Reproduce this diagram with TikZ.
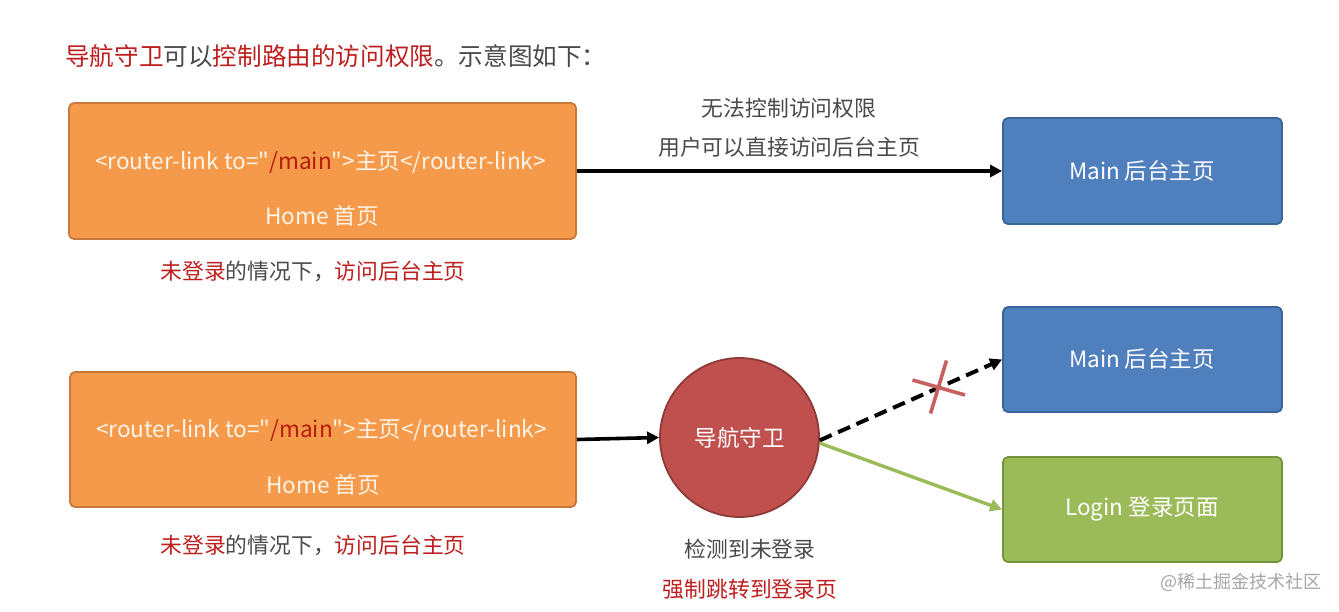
\documentclass[tikz,border=0pt]{standalone}
\usepackage{fontspec}
\setmainfont{Noto Sans CJK SC}
\newfontfamily\qfont{Noto Sans CJK SC}[Ligatures=ResetAll]
\usetikzlibrary{arrows.meta}
\definecolor{orfill}{HTML}{F59A4A}
\definecolor{ordraw}{HTML}{C8783A}
\definecolor{blfill}{HTML}{4F7FBD}
\definecolor{bldraw}{HTML}{3A6598}
\definecolor{grfill}{HTML}{9BBB59}
\definecolor{grdraw}{HTML}{76923C}
\definecolor{rdfill}{HTML}{C0504D}
\definecolor{rddraw}{HTML}{8E3A38}
\definecolor{txtred}{HTML}{BE1E1E}
\definecolor{txtgray}{HTML}{4A4A4A}
\definecolor{codered}{HTML}{B71C0C}
\definecolor{orwhite}{HTML}{FFF4E8}
\newcommand{\dq}{{\qfont"}}
\tikzset{
  box/.style={draw, line width=1.8pt, rounded corners=5pt, inner sep=0pt},
  obox/.style={box, fill=orfill, draw=ordraw},
  bbox/.style={box, fill=blfill, draw=bldraw},
  gbox/.style={box, fill=grfill, draw=grdraw},
  fsz/.style={font=\fontsize{21.8}{26}\selectfont},
  intext/.style={font=\fontsize{22.6}{26}\selectfont, text=orwhite, inner sep=0pt},
  wtext/.style={font=\fontsize{22.5}{26}\selectfont, text=white, inner sep=0pt},
  gtext/.style={fsz, text=txtgray, inner sep=0pt},
  arr/.style={line width=3.6pt, -{Triangle[length=12pt,width=12pt]}},
}
\begin{document}
\begin{tikzpicture}[x=1pt,y=-1pt]
\useasboundingbox[fill=white] (0,0) rectangle (1339,611);

% title
\node[anchor=west, inner sep=0pt, font=\fontsize{24.6}{28}\selectfont, text=txtgray] (title) at (65,56)
  {\textcolor{txtred}{导航守卫}可以\textcolor{txtred}{控制路由的访问权限}。示意图如下：};

% top row
\node[obox, minimum width=507pt, minimum height=136pt] (home1) at (322.5,171) {};
\node[intext] (code1) at (320.5,162) {<router-link to=\dq\textcolor{codered}{/main}\dq>主页</router-link>};
\node[intext] (hname1) at (322,216) {Home 首页};
\node[gtext] (lab1) at (313,271) {\textcolor{txtred}{未登录}的情况下，\textcolor{txtred}{访问后台主页}};

\node[bbox, minimum width=279pt, minimum height=106pt] (main1) at (1142.5,171) {};
\node[wtext] (mname1) at (1142,171) {Main 后台主页};

\node[gtext] (note1) at (789,108) {无法控制访问权限};
\node[gtext] (note2) at (789,147) {用户可以直接访问后台主页};

\draw[arr] (home1.east) -- (main1.west);

% bottom row
\node[obox, minimum width=506pt, minimum height=135pt] (home2) at (323,439.5) {};
\node[intext] (code2) at (321.5,430) {<router-link to=\dq\textcolor{codered}{/main}\dq>主页</router-link>};
\node[intext] (hname2) at (323,485) {Home 首页};
\node[gtext] (lab2) at (313,545) {\textcolor{txtred}{未登录}的情况下，\textcolor{txtred}{访问后台主页}};

\node[circle, draw=rddraw, fill=rdfill, line width=1.8pt, minimum size=159pt, inner sep=0pt] (guard) at (739.5,437.5) {};
\node[wtext] (gname) at (739.5,438) {导航守卫};
\node[gtext] (chk1) at (750,549) {检测到未登录};
\node[fsz, text=txtred, inner sep=0pt] (chk2) at (750,589) {强制跳转到登录页};

\node[bbox, minimum width=279pt, minimum height=105pt] (main2) at (1142.5,359.5) {};
\node[wtext] (mname2) at (1142,359) {Main 后台主页};

\node[gbox, minimum width=279pt, minimum height=105pt] (login) at (1142.5,509.5) {};
\node[wtext] (lname) at (1142,509) {Login 登录页面};

\draw[arr] (home2.east) -- (guard.west);
\draw[arr, line width=4pt, dash pattern=on 13pt off 7pt] (guard.-2) -- (main2.west);
\draw[arr, draw=grfill, fill=grfill, line width=3.4pt] (guard.-4) -- (login.west);

% red cross
\coordinate (xa1) at (912.5,380);
\coordinate (xa2) at (965,395);
\coordinate (xb1) at (946.5,360.5);
\coordinate (xb2) at (930.5,413.5);
\draw[draw=rdfill!90!white, line width=3.6pt] (xa1) -- (xa2);
\draw[draw=rdfill!90!white, line width=3.6pt] (xb1) -- (xb2);

% watermark
\node[anchor=east, inner sep=0pt, font=\fontsize{18}{21}\selectfont, text=black!35] (wm) at (1322,582) {@稀土掘金技术社区};
\end{tikzpicture}
\end{document}
